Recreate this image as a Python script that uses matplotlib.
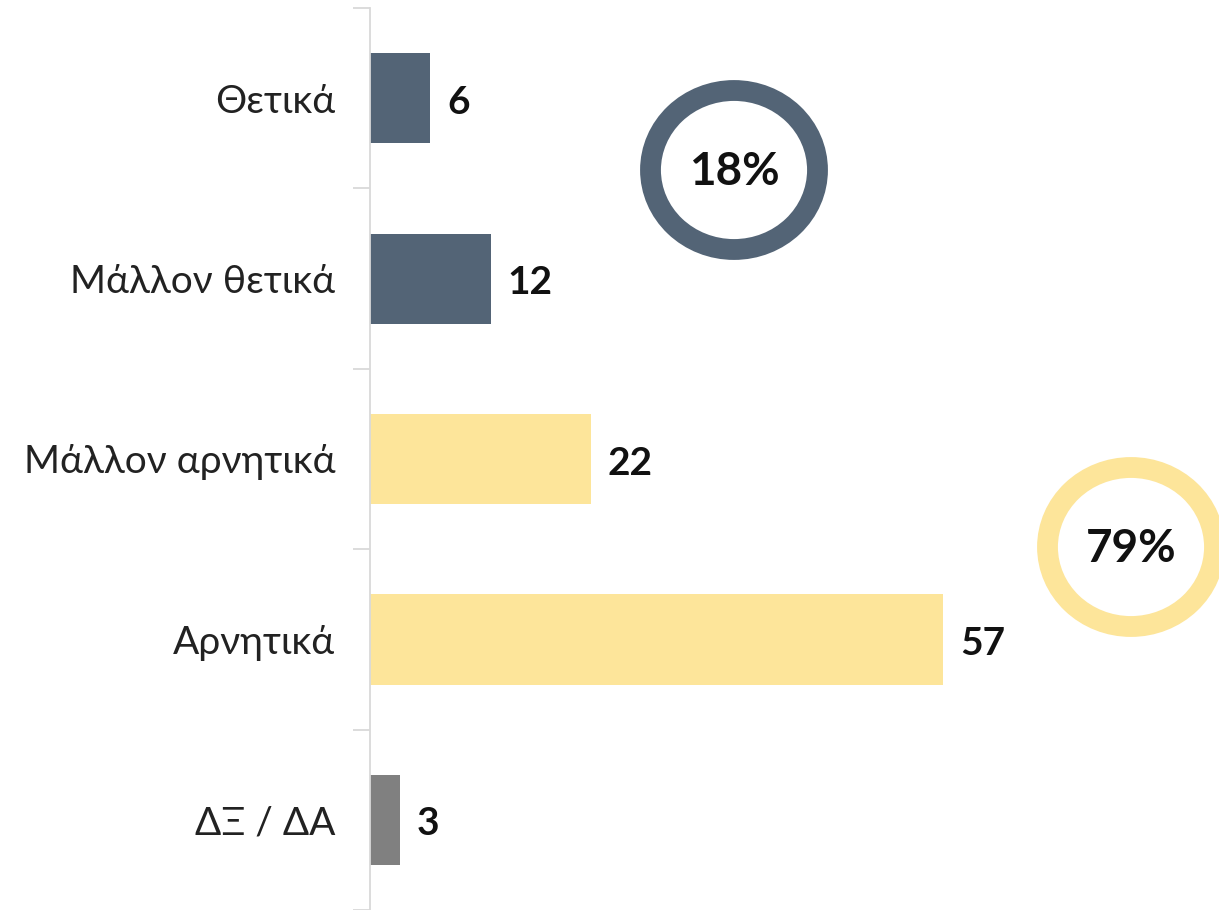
import matplotlib

matplotlib.use("Agg")
import matplotlib.pyplot as plt
from matplotlib.patches import Ellipse

plt.rcParams["font.family"] = ["Lato", "DejaVu Sans"]

categories = ["Θετικά", "Μάλλον θετικά", "Μάλλον αρνητικά", "Αρνητικά", "ΔΞ / ΔΑ"]
values = [6, 12, 22, 57, 3]
groups = ["pos", "pos", "neg", "neg", "dk"]

colors = {"pos": "#536476", "neg": "#fde59a", "dk": "#808080"}

W, H = 1219, 910
fig = plt.figure(figsize=(W / 100, H / 100), dpi=100)
ax = fig.add_axes([370 / W, 0.0, (W - 370) / W, 902 / H])

ypos = list(range(len(categories)))
ax.barh(ypos, values, height=0.5, color=[colors[g] for g in groups], zorder=2)

for y, v in zip(ypos, values):
    ax.annotate(
        str(v),
        (v, y),
        textcoords="offset points",
        xytext=(12, -3),
        va="center",
        ha="left",
        fontsize=28,
        fontweight="bold",
        color="#111111",
    )

ax.set_xlim(0, (W - 370) / 10.06)
ax.set_ylim(len(categories) - 0.5, -0.5)
ax.set_yticks(ypos)
ax.set_yticklabels(categories, fontsize=28, color="#222222")
ax.set_yticks([i - 0.5 for i in range(len(categories) + 1)], minor=True)
ax.tick_params(axis="y", which="major", length=0, pad=25)
ax.tick_params(axis="y", which="minor", length=12, width=1.3, color="#d9d9d9")
ax.set_xticks([])
for side in ["top", "right", "bottom"]:
    ax.spines[side].set_visible(False)
ax.spines["left"].set_color("#d9d9d9")
ax.spines["left"].set_linewidth(1.3)

# overlay in pixel coordinates for the summary rings
ov = fig.add_axes([0, 0, 1, 1], facecolor="none")
ov.set_xlim(0, W)
ov.set_ylim(H, 0)
ov.axis("off")

pos_total = sum(v for v, g in zip(values, groups) if g == "pos")
neg_total = sum(v for v, g in zip(values, groups) if g == "neg")
rings = [
    (734, 170, colors["pos"], f"{pos_total}%"),
    (1131, 547, colors["neg"], f"{neg_total}%"),
]
for cx, cy, col, txt in rings:
    ov.add_patch(
        Ellipse((cx, cy), 167, 159, facecolor="none", edgecolor=col, linewidth=15)
    )
    ov.text(cx, cy + 2, txt, ha="center", va="center", fontsize=33,
            fontweight="bold", color="#111111")

fig.savefig("out.png", dpi=100)
plt.close(fig)
